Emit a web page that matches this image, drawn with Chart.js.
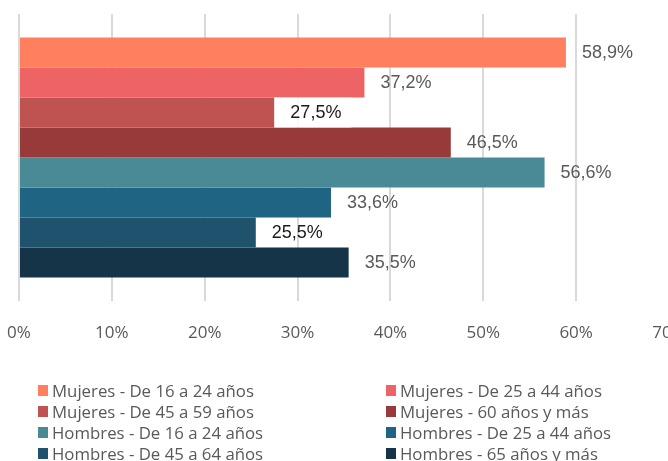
<!DOCTYPE html>
<html>
<head>
<meta charset="utf-8">
<script src="https://cdn.jsdelivr.net/npm/chart.js@4.4.0/dist/chart.umd.min.js"></script>
<style>
    html, body { margin: 0; padding: 0; background: #FFFFFF; overflow: hidden; }
    body { width: 668px; height: 461px; position: relative; }
    #wrap { position: absolute; left: 0; top: 0; width: 687px; height: 461px; }
    #legend { position: absolute; left: 0; top: 380px; width: 668px; font-family: 'Open Sans', sans-serif; font-size: 16.8px; color: #595959; }
    .item { position: absolute; height: 21px; line-height: 21px; white-space: nowrap; }
    .box { position: absolute; left: 0; top: 5px; width: 10px; height: 11px; }
    .txt { position: absolute; left: 14px; top: 0; }
</style>
</head>
<body>
<div id="wrap"><canvas id="chart"></canvas></div>
<div id="legend"></div>
<script>
// datos
const categories = [''];
const seriesNames = [
    'Mujeres - De 16 a 24 años',
    'Mujeres - De 25 a 44 años',
    'Mujeres - De 45 a 59 años',
    'Mujeres - 60 años y más',
    'Hombres - De 16 a 24 años',
    'Hombres - De 25 a 44 años',
    'Hombres - De 45 a 64 años',
    'Hombres - 65 años y más'
];
const seriesValues = [58.9, 37.2, 27.5, 46.5, 56.6, 33.6, 25.5, 35.5];
const seriesColors = ['#FF7F5F', '#EE6363', '#BE5351', '#983A39', '#4A8A97', '#1F6482', '#1E526D', '#153447'];
const darkLabels = [false, false, true, false, false, false, true, false];
const boxedLabels = [false, false, true, false, false, false, false, false];
const tickMax = 70;

// etiquetas de valor
const valueLabels = {
    id: 'valueLabels',
    afterDatasetsDraw(chart) {
        const ctx = chart.ctx;
        ctx.save();
        ctx.font = "18px 'Liberation Sans', Arial, sans-serif";
        ctx.textBaseline = 'middle';
        chart.data.datasets.forEach((ds, i) => {
            const bar = chart.getDatasetMeta(i).data[0];
            const txt = ds.data[0].toFixed(1).replace('.', ',') + '%';
            const x = bar.x + 16;
            if (boxedLabels[i]) {
                ctx.fillStyle = 'rgba(255,255,255,0.8)';
                ctx.fillRect(bar.x, bar.y - bar.height / 2, ctx.measureText(txt).width + 26, bar.height);
            }
            ctx.fillStyle = darkLabels[i] ? '#1A1A1A' : '#595959';
            ctx.fillText(txt, x, bar.y + 1);
        });
        ctx.restore();
    }
};

const ctx = document.getElementById('chart').getContext('2d');
const chart = new Chart(ctx, {
    type: 'bar',
    data: {
        labels: categories,
        datasets: seriesNames.map((name, i) => ({
            label: name,
            data: [seriesValues[i]],
            backgroundColor: seriesColors[i],
            borderWidth: 0,
            categoryPercentage: 0.836,
            barPercentage: 1
        }))
    },
    options: {
        indexAxis: 'y',
        responsive: true,
        maintainAspectRatio: false,
        animation: false,
        layout: { padding: { left: 19, right: 18, top: 14, bottom: 120 } },
        plugins: {
            legend: { display: false },
            tooltip: { enabled: false }
        },
        scales: {
            x: {
                min: 0,
                max: tickMax,
                afterFit: (scale) => {
                    // la etiqueta 70% queda cortada en el borde, como en el original
                    scale.height = 40;
                    scale.paddingLeft = 0;
                    scale.paddingRight = 0;
                },
                ticks: {
                    stepSize: 10,
                    padding: 22,
                    color: '#595959',
                    font: { family: "'Open Sans', sans-serif", size: 17 },
                    callback: (v) => v + '%'
                },
                grid: { color: '#D9D9D9', lineWidth: 2, drawTicks: false },
                border: { display: false }
            },
            y: { display: false }
        }
    },
    plugins: [valueLabels]
});

// leyenda en dos columnas
const legendEl = document.getElementById('legend');
seriesNames.forEach((name, i) => {
    const item = document.createElement('div');
    item.className = 'item';
    item.style.left = (i % 2 === 0 ? 38 : 386) + 'px';
    item.style.top = (Math.floor(i / 2) * 21) + 'px';
    item.innerHTML = `<span class="box" style="background:${seriesColors[i]}"></span><span class="txt">${name}</span>`;
    legendEl.appendChild(item);
});
</script>
</body>
</html>
